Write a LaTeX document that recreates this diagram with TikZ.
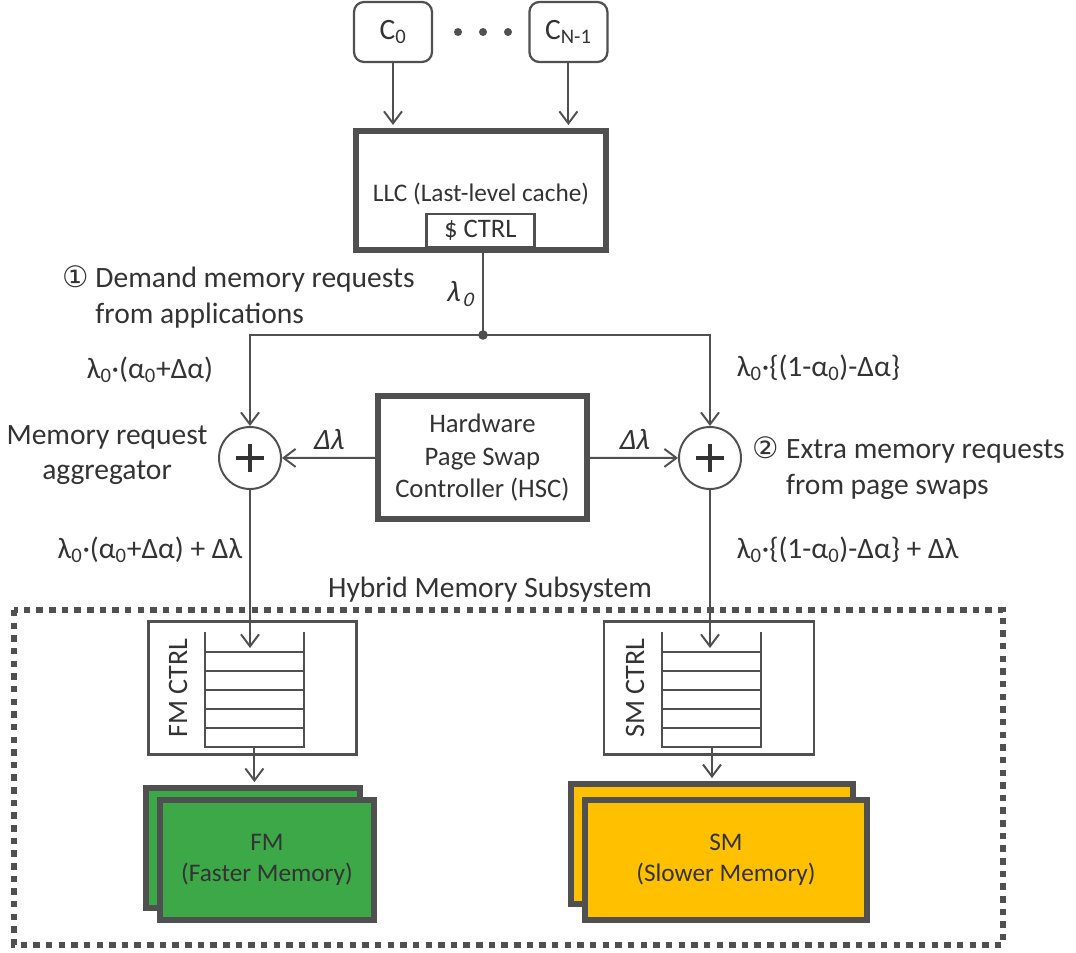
\documentclass[tikz,border=0pt]{standalone}
\usepackage{fontspec}
\setmainfont{Carlito}
\newfontfamily\circfont{DejaVu Sans}
\newfontfamily\slfont{Carlito}[FakeSlant=0.22]
\usetikzlibrary{arrows.meta}
\definecolor{linegray}{HTML}{505050}
\definecolor{txtgray}{HTML}{333333}
\definecolor{fmgreen}{HTML}{3DA848}
\definecolor{smyellow}{HTML}{FFC000}
\begin{document}
\begin{tikzpicture}[color=linegray,text=txtgray,font=\fontsize{21pt}{25.5pt}\selectfont,
  >={Straight Barb[length=0.3cm,width=0.45cm]},
  arr/.style={->,line width=1.4pt},
  small/.style={font=\fontsize{18pt}{22pt}\selectfont},
  core/.style={draw,rounded corners=0.25cm,line width=1.6pt,minimum width=1.95cm,minimum height=1.5cm},
  thickbox/.style={draw,line width=4.4pt},
  thinbox/.style={draw,line width=1.6pt},
  mem/.style={draw,line width=4.4pt,minimum height=3cm,small},
  agg/.style={circle,draw,line width=1.4pt,minimum size=1.55cm,
    path picture={\draw[line width=3.5pt,txtgray]
      ([xshift=-0.35cm]path picture bounding box.center) -- ([xshift=0.35cm]path picture bounding box.center)
      ([yshift=-0.35cm]path picture bounding box.center) -- ([yshift=0.35cm]path picture bounding box.center);}}]
\useasboundingbox (0,0) rectangle (26.9,-23.825);
\node[core] (c0) at (9.825,-0.8) {C\textsubscript{0}};
\node[core] (cn) at (14.21,-0.8) {C\textsubscript{N-1}};
\foreach \x in {11.45,12.075,12.7}
  \fill (\x,-0.8) circle (0.1);
\node[thickbox,minimum width=6.25cm,minimum height=2.975cm] (llc) at (12.025,-4.76) {};
\node[small] (llctext) at (12.025,-4.85) {LLC (Last-level cache)};
\node[thinbox,minimum width=2.7cm,minimum height=0.83cm,font=\fontsize{19pt}{23pt}\selectfont] (cachectrl) at (12.01,-5.76) {\$ CTRL};
\draw[arr,shorten >=2pt] (c0.south) -- (c0.south |- llc.north);
\draw[arr,shorten >=2pt] (cn.south) -- (cn.south |- llc.north);
\coordinate (split) at (12.075,-8.375);
\node[agg] (aggL) at (6.25,-11.45) {};
\node[agg] (aggR) at (17.75,-11.45) {};
\node[thickbox,minimum width=5.225cm,minimum height=3.075cm,align=center,font=\fontsize{19pt}{23pt}\selectfont] (hsc) at (12.06,-11.44)
  {Hardware\\Page Swap\\Controller (HSC)};
\draw[line width=1.4pt] (llc.south -| split) -- (split);
\fill (split) circle (0.12);
\draw[arr] (split) -| (aggL);
\draw[arr] (split) -| (aggR);
\draw[arr] (hsc) -- node[above=2pt] {\slfont Δλ} (aggL);
\draw[arr] (hsc) -- node[above=2pt] {\slfont Δλ} (aggR);
\node[anchor=west,align=left,inner sep=0pt] (demand) at (1.55,-7.425)
  {{\circfont ①} Demand memory requests\\\hphantom{{\circfont ①} }from applications};
\node[inner sep=1pt] (lam) at (11.5,-7.35) {\slfont λ\kern2pt\textsubscript{0}};
\node (aggtext) at (2.675,-11.375) [align=center] {Memory request\\aggregator};
\node[anchor=west,align=left] (extra) at (18.7,-11.7)
  {{\circfont ②} Extra memory requests\\\hphantom{{\circfont ②} }from page swaps};
\node (lamL) at (3.75,-9.25) {λ\textsubscript{0}·(α\textsubscript{0}+Δα)};
\node[anchor=west] (lamR) at (18.3,-9.2) {λ\textsubscript{0}·\{(1-α\textsubscript{0})-Δα\}};
\node (lamLout) at (3.75,-13.75) {λ\textsubscript{0}·(α\textsubscript{0}+Δα) + Δλ};
\node[anchor=west] (lamRout) at (18.3,-13.75) {λ\textsubscript{0}·\{(1-α\textsubscript{0})-Δα\} + Δλ};
\node (hms) at (12.25,-14.75) {Hybrid Memory Subsystem};
\draw[line width=4.6pt,dash pattern=on 4.6pt off 4.4pt] (0.35,-15.25) rectangle (25.075,-23.625);
\node[thinbox,minimum width=5.2cm,minimum height=3.33cm] (fmctrl) at (6.31,-17.2) {};
\node[thinbox,minimum width=5.25cm,minimum height=3.33cm] (smctrl) at (17.725,-17.2) {};
\node[rotate=90,font=\fontsize{20pt}{24pt}\selectfont] (fmlabel) at (4.45,-17.2) {FM CTRL};
\node[rotate=90,font=\fontsize{20pt}{24pt}\selectfont] (smlabel) at (15.875,-17.2) {SM CTRL};
\foreach \sx in {5.125,16.55} {
  \draw[line width=1.4pt] (\sx,-15.8) -- (\sx,-18.675) -- (\sx+2.475,-18.675) -- (\sx+2.475,-15.8);
  \foreach \y in {-16.3,-16.775,-17.25,-17.725,-18.2}
    \draw[line width=1.4pt] (\sx,\y) -- ++(2.475,0);
}
\coordinate (fmin) at (6.3,-16.2);
\coordinate (smin) at (17.775,-16.2);
\coordinate (fmout) at (6.36,-18.675);
\coordinate (smout) at (17.8,-18.675);
\node[mem,fill=fmgreen,minimum width=5.35cm] (fmback) at (6.325,-21.2) {};
\node[mem,fill=fmgreen,minimum width=5.35cm,align=center] (fm) at (6.675,-21.5) {FM\\(Faster Memory)};
\node[mem,fill=smyellow,minimum width=7.05cm] (smback) at (17.79,-21.1) {};
\node[mem,fill=smyellow,minimum width=7.05cm,align=center] (sm) at (18.15,-21.5) {SM\\(Slower Memory)};
\draw[arr] (aggL) -- (aggL |- fmin);
\draw[arr] (aggR) -- (aggR |- smin);
\draw[arr,shorten >=2pt] (fmout) -- (fmout |- fmback.north);
\draw[arr,shorten >=2pt] (smout) -- (smout |- smback.north);
\end{tikzpicture}
\end{document}
